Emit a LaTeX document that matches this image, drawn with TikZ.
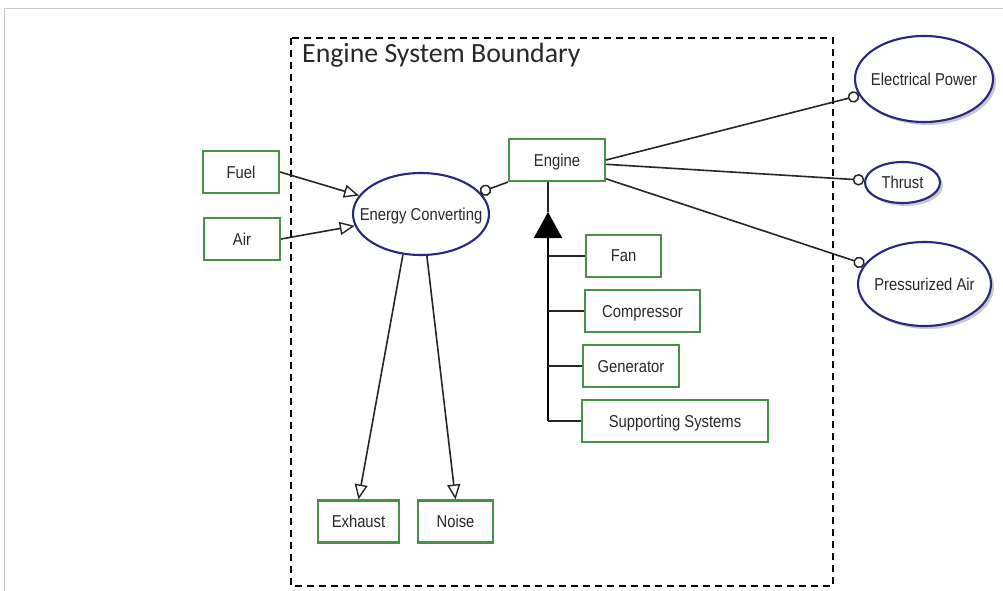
\documentclass[tikz,border=0pt]{standalone}
\usepackage{fontspec}
\setmainfont[FakeStretch=0.86]{Liberation Sans}
\newfontfamily\titlefont{Carlito}
\usetikzlibrary{arrows.meta,shapes.geometric,shadows,calc}
\definecolor{boxgreen}{RGB}{72,145,72}
\definecolor{ovalblue}{RGB}{40,40,128}
\definecolor{inktext}{RGB}{40,40,40}
\definecolor{framegray}{RGB}{200,200,200}
\begin{document}
\begin{tikzpicture}[x=1pt,y=-1pt,
  lbl/.style={font=\fontsize{17.2}{19}\selectfont, text=inktext, text depth=0pt},
  part/.style={lbl, draw=boxgreen, line width=2.1pt, minimum height=42pt, inner sep=0pt},
  usecase/.style={ellipse, draw=ovalblue, line width=2.1pt, fill=white, inner sep=0pt},
  shade/.style={drop shadow={shadow xshift=3pt, shadow yshift=-3pt, opacity=0.35, fill=black!60}},
  link/.style={draw=black!85, line width=1.6pt},
  flow/.style={link, -{Triangle[open, length=15pt, width=13pt, line width=1.4pt]}},
  port/.style={link, -{Circle[open, length=11.5pt, width=11.5pt, line width=1.5pt]}}
]
\useasboundingbox (0,0) rectangle (1003,591);
\fill[white] (0,0) rectangle (1003,591);
% outer page frame
\draw[framegray, line width=1pt] (1003,9) -- (4,9) -- (4,591);

% system boundary
\draw[black, line width=2.1pt, dash pattern=on 7pt off 5pt] (291,38) rectangle (833,586);
\node[anchor=base west, inner sep=0pt, font=\titlefont\fontsize{27.8}{30}\selectfont, text=inktext] (title) at (302,63) {Engine System Boundary};

% parts
\node[part, minimum width=76pt] (fuel) at (241,172) {Fuel};
\node[part, minimum width=76pt] (air) at (242,239) {Air};
\node[part, minimum width=96pt] (engine) at (557,160) {Engine};
\node[part, minimum width=75pt] (fan) at (623.5,256) {Fan};
\node[part, minimum width=115pt] (comp) at (642.5,311) {Compressor};
\node[part, minimum width=96pt] (gen) at (631,366) {Generator};
\node[part, minimum width=186pt] (supp) at (675,421) {Supporting Systems};
\node[part, minimum width=81pt] (exhaust) at (358.5,521.5) {Exhaust};
\node[part, minimum width=75pt] (noise) at (455.5,521.5) {Noise};

% functions
\node[usecase, minimum width=136pt, minimum height=82pt,
      label={[lbl]center:Energy Converting}] (energy) at (421,214) {};
\node[usecase, shade, minimum width=138pt, minimum height=86pt,
      label={[lbl]center:Electrical Power}] (power) at (924,79) {};
\node[usecase, shade, minimum width=75pt, minimum height=41pt,
      label={[lbl]center:Thrust}] (thrust) at (902.5,182.5) {};
\node[usecase, shade, minimum width=133pt, minimum height=84pt,
      label={[lbl]center:Pressurized Air}] (press) at (924.5,284) {};

% inputs and outputs of the energy conversion
\draw[flow] (fuel.east) -- (energy);
\draw[flow] (air.east) -- (energy);
\draw[flow] (energy.246) -- (exhaust.north);
\draw[flow] (energy.278) -- (noise.north);

% ports of the engine
\draw[port] (engine.south west) -- (energy);
\draw[port] (engine.east) -- (power);
\draw[port] (engine.-5) -- (thrust);
\draw[port] (engine.-21) -- (press);

% composition of the engine
\coordinate (tip) at (548,212);
\coordinate (root) at (548,421);
\draw[link] (engine.south -| tip) -- (tip);
\draw[link, draw=black, -{Triangle[length=26pt, width=28pt]}] (root) -- (tip);
\draw[link] (fan.west -| root) -- (fan.west);
\draw[link] (comp.west -| root) -- (comp.west);
\draw[link] (gen.west -| root) -- (gen.west);
\draw[link] (supp.west -| root) -- (supp.west);
\end{tikzpicture}
\end{document}
